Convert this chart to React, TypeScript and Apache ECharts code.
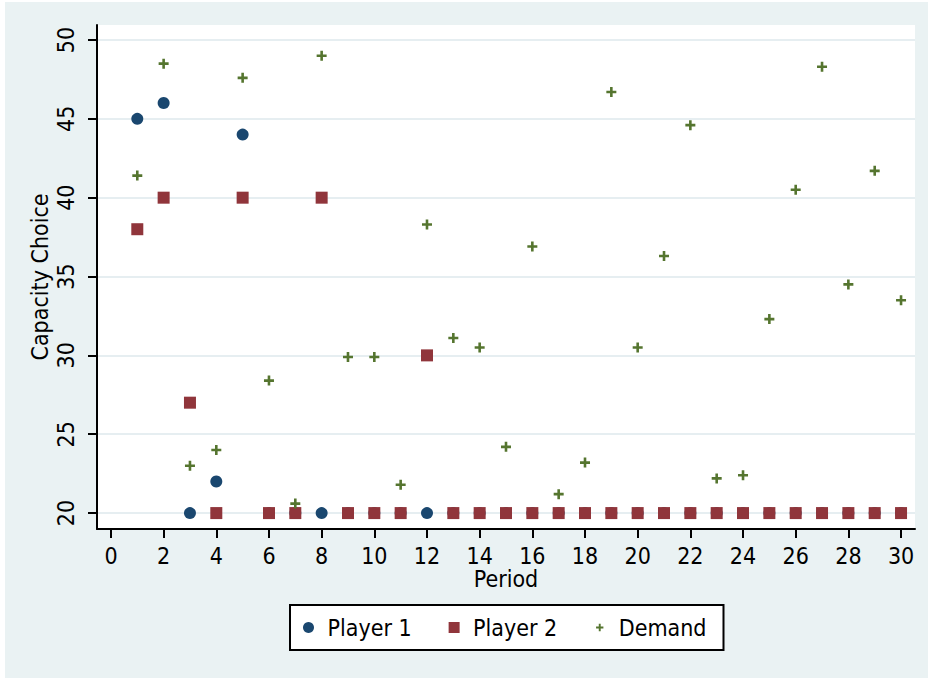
import React, { useEffect, useRef } from "react";
import * as echarts from "echarts";

const periods = [1,2,3,4,5,6,7,8,9,10,11,12,13,14,15,16,17,18,19,20,21,22,23,24,25,26,27,28,29,30];
const player1 = [45,46,20,22,44,20,20,20,20,20,20,20,20,20,20,20,20,20,20,20,20,20,20,20,20,20,20,20,20,20];
const player2 = [38,40,27,20,40,20,20,40,20,20,20,30,20,20,20,20,20,20,20,20,20,20,20,20,20,20,20,20,20,20];
const demand = [41.4,48.5,23.0,24.0,47.6,28.4,20.6,49.0,29.9,29.9,21.8,38.3,31.1,30.5,24.2,36.9,21.2,23.2,46.7,30.5,36.3,44.6,22.2,22.4,32.3,40.5,48.3,34.5,41.7,33.5];
const xTicks = [0,2,4,6,8,10,12,14,16,18,20,22,24,26,28,30];
const yTicks = [20,25,30,35,40,45,50];
const seriesNames = ["Player 1", "Player 2", "Demand"];

const PLUS = "path://M3.7,0h2.6v3.7h3.7v2.6h-3.7v3.7h-2.6v-3.7h-3.7v-2.6h3.7z";
const PLUS_LEGEND = "path://M-2.5,-2.5M12.5,12.5M3.7,0h2.6v3.7h3.7v2.6h-3.7v3.7h-2.6v-3.7h-3.7v-2.6h3.7z";
const SQUARE = "path://M0,0h10v10h-10z";

const FONT = "'DejaVu Sans Condensed', 'DejaVu Sans', sans-serif";
const FS = 23;

export default function App() {
  const ref = useRef<HTMLDivElement>(null);
  useEffect(() => {
    if (!ref.current) return;
    const chart = echarts.init(ref.current, null, { renderer: "svg" });
    const pairs = (ys: number[]) => periods.map((p, i) => [p, ys[i]]);
    chart.setOption({
      animation: false,
      backgroundColor: "#ffffff",
      textStyle: { fontFamily: FONT },
      graphic: [
        {
          type: "rect",
          z: -10,
          silent: true,
          shape: { x: 5, y: 2, width: 923, height: 676 },
          style: { fill: "#EAF2F3" },
        },
      ],
      grid: {
        left: 97,
        top: 25,
        width: 818,
        height: 504,
        show: true,
        backgroundColor: "#ffffff",
        borderWidth: 0,
      },
      legend: {
        left: 290,
        top: 605,
        orient: "horizontal",
        backgroundColor: "#ffffff",
        borderColor: "#000000",
        borderWidth: 2,
        borderRadius: 0,
        padding: [11, 17, 11, 13],
        itemWidth: 28,
        itemHeight: 11,
        itemGap: 37,
        textStyle: { fontFamily: FONT, fontSize: FS, color: "#000" },
        data: [
          { name: seriesNames[0], icon: "circle" },
          { name: seriesNames[1], icon: SQUARE },
          { name: seriesNames[2], icon: PLUS_LEGEND },
        ],
      },
      xAxis: {
        type: "value",
        min: -0.53,
        max: 30.53,
        name: "Period",
        nameLocation: "middle",
        nameGap: 40,
        nameMoveOverlap: false,
        nameTextStyle: { fontFamily: FONT, fontSize: FS, color: "#000", lineHeight: 19 },
        axisLine: { show: true, onZero: false, lineStyle: { color: "#000", width: 2 } },
        axisTick: { show: true, length: 9, customValues: xTicks, lineStyle: { color: "#000", width: 2 } },
        axisLabel: { customValues: xTicks, fontFamily: FONT, fontSize: FS, color: "#000", margin: 17, lineHeight: 19 },
        splitLine: { show: false },
      },
      yAxis: {
        type: "value",
        min: 18.99,
        max: 50.95,
        name: "Capacity Choice",
        nameLocation: "middle",
        nameGap: 46,
        nameMoveOverlap: false,
        nameTextStyle: { fontFamily: FONT, fontSize: FS, color: "#000" },
        axisLine: { show: true, onZero: false, lineStyle: { color: "#000", width: 2 } },
        axisTick: { show: true, length: 9, customValues: yTicks, lineStyle: { color: "#000", width: 2 } },
        axisLabel: { customValues: yTicks, rotate: 90, fontFamily: FONT, fontSize: FS, color: "#000", margin: 20 },
        splitLine: { show: true, lineStyle: { color: "#E6EEF1", width: 2 } },
      },
      series: [
        {
          name: seriesNames[0],
          type: "scatter",
          data: pairs(player1),
          symbol: "circle",
          symbolSize: 12,
          itemStyle: { color: "#1A476F", opacity: 1 },
          z: 2,
        },
        {
          name: seriesNames[1],
          type: "scatter",
          data: pairs(player2),
          symbol: "rect",
          symbolSize: 12,
          itemStyle: { color: "#90353B", opacity: 1 },
          z: 3,
        },
        {
          name: seriesNames[2],
          type: "scatter",
          data: pairs(demand),
          symbol: PLUS,
          symbolSize: 10,
          itemStyle: { color: "#55752F", opacity: 1 },
          z: 4,
        },
      ],
    });
    return () => chart.dispose();
  }, []);
  return (
    <div
      ref={ref}
      style={{ position: "absolute", left: 0, top: 0, width: 930, height: 681 }}
    />
  );
}
